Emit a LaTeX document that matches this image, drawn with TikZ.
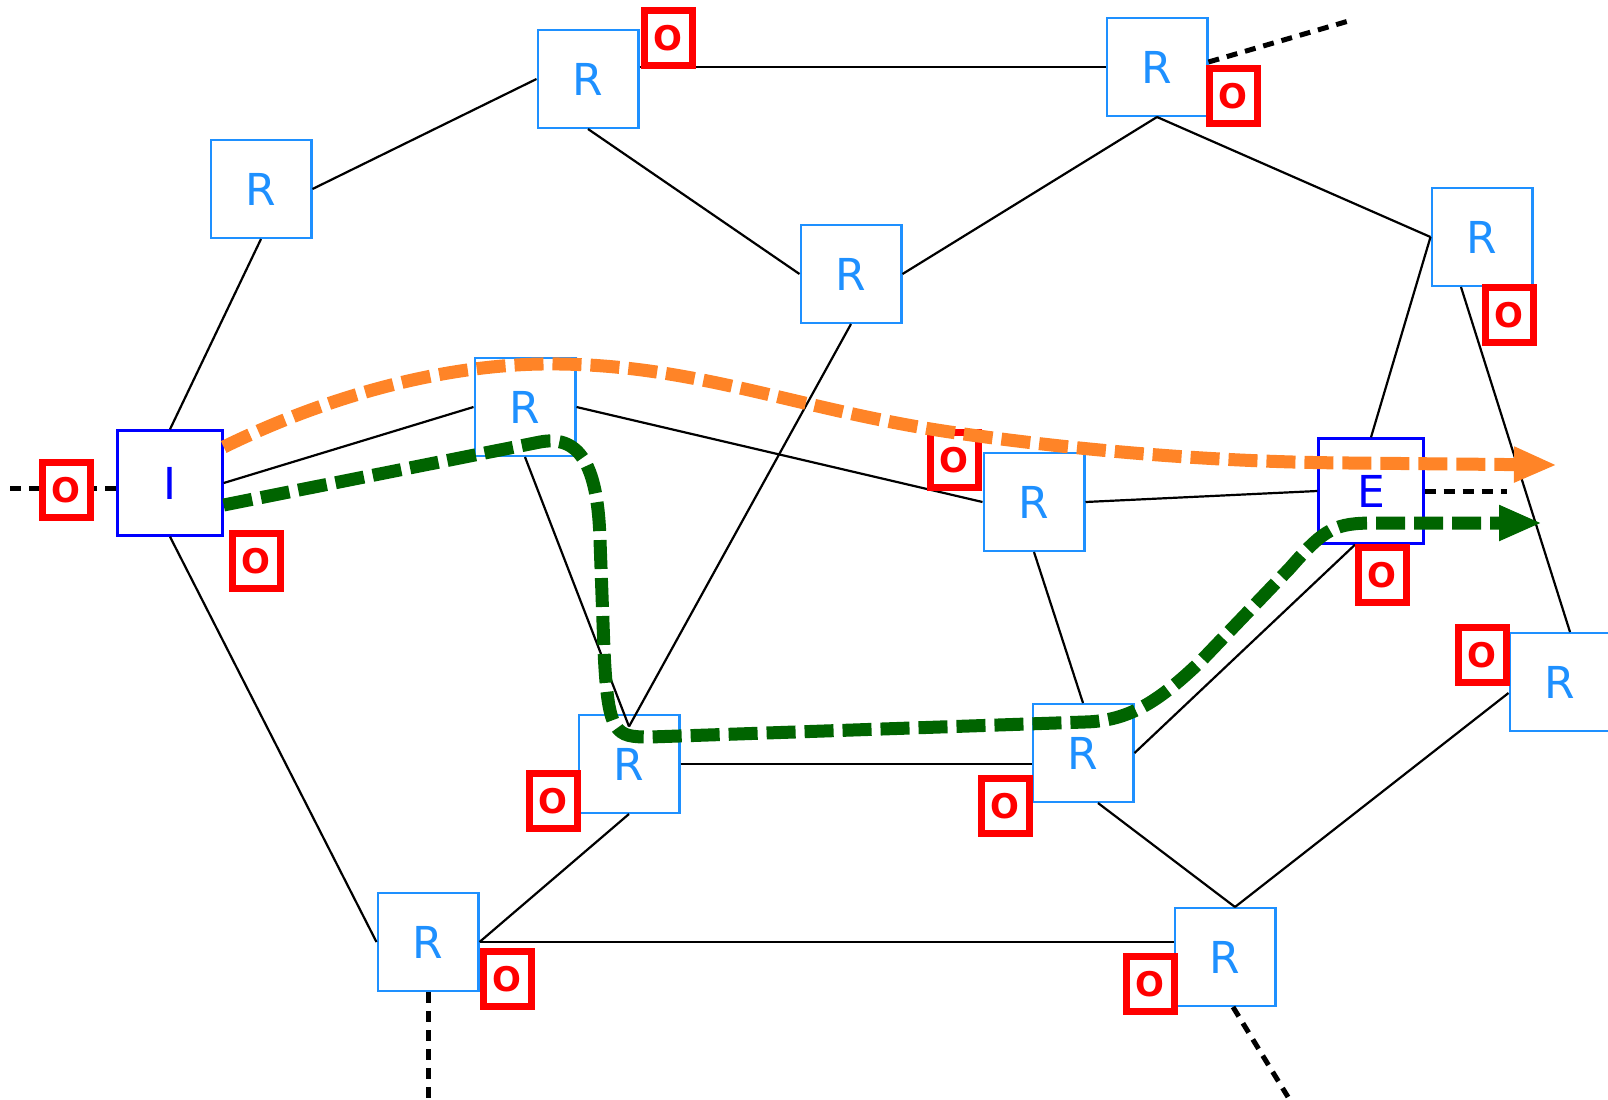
\documentclass[tikz,border=0pt]{standalone}
\usepackage{fontspec}
\newfontfamily\boxfont{DejaVu Sans}
\usepackage{tikz}
\usetikzlibrary{arrows.meta,calc}
\definecolor{rblue}{RGB}{30,144,255}
\definecolor{pathorange}{RGB}{255,132,39}
\definecolor{pathgreen}{RGB}{0,100,0}

\begin{document}
\begin{tikzpicture}[x=0.5pt,y=-0.5pt,
  rbox/.style={draw=rblue,text=rblue,line width=1.2pt,minimum width=50.3pt,
    minimum height=48.8pt,inner sep=0pt,font=\boxfont\fontsize{22}{22}\selectfont},
  ebox/.style={rbox,draw=blue,text=blue,minimum width=52.5pt,minimum height=52.5pt},
  obox/.style={draw=red,text=red,fill=white,line width=3.5pt,minimum width=24pt,
    minimum height=27.5pt,inner sep=0pt,font=\boxfont\bfseries\fontsize{17}{17}\selectfont},
  link/.style={line width=1.1pt},
  stub/.style={line width=2.5pt,dash pattern=on 5.5pt off 4pt},
  route/.style={line width=6.5pt,dash pattern=on 14.5pt off 4.5pt,
    -{Triangle[length=21.5pt,width=16.5pt]}}]
  \useasboundingbox (0,0) rectangle (1608,1099);
  % routers
  \node[rbox] (r1)  at (588,79)   {R};
  \node[rbox] (r2)  at (1157,67)  {R};
  \node[rbox] (r3)  at (261,189)  {R};
  \node[rbox] (r4)  at (851,274)  {R};
  \node[rbox] (r5)  at (1482,237) {R};
  \node[rbox] (r6)  at (525,407)  {R};
  \node[ebox] (i)   at (170,483)  {I};
  \node[rbox] (r7)  at (1034,502) {R};
  \node[ebox] (e)   at (1371,491) {E};
  \node[rbox] (r8)  at (1560,682) {R};
  \node[rbox] (r9)  at (629,764)  {R};
  \node[rbox] (r10) at (1083,753) {R};
  \node[rbox] (r11) at (428,942)  {R};
  \node[rbox] (r12) at (1225,957) {R};
  \coordinate (r9in)  at ($(r9.north)!0.25!(r9.center)$);
  \coordinate (r12in) at ([xshift=5pt]r12.north);
  \coordinate (lft) at (10,488);
  \coordinate (ne)  at (1352,20);
  \coordinate (rgt) at (1507,491);
  \coordinate (sw)  at (428,1099);
  \coordinate (se)  at (1288,1097);
  % links
  \draw[link] (r3.east) -- (r1.west);
  \draw[link] (r3.south) -- (i.north);
  \draw[link] (r1.east |- r2.west) -- (r2.west);
  \draw[link] (r1.south) -- (r4.west);
  \draw[link] (r2.south) -- (r4.east);
  \draw[link] (r2.south) -- (r5.west);
  \draw[link] (r4.south) -- (r9in);
  \draw[link] (r5.west) -- (e.north);
  \draw[link] ([xshift=-10.5pt]r5.south) -- ([xshift=5pt]r8.north);
  \draw[link] (i.east) -- (r6.west);
  \draw[link] (i.south) -- (r11.west);
  \draw[link] (r6.east) -- (r7.west);
  \draw[link] (r6.south) -- (r9in);
  \draw[link] (r7.east) -- (e.west);
  \draw[link] (r7.south) -- (r10.north);
  \draw[link] ([xshift=-8pt]e.south) -- (r10.east);
  \draw[link] ([yshift=-5.5pt]r8.west) -- (r12in);
  \draw[link] (r9.east) -- (r9.east -| r10.west);
  \draw[link] (r9.south) -- (r11.east);
  \draw[link] ([xshift=7.5pt]r10.south) -- (r12in);
  \draw[link] (r11.east) -- (r11.east -| r12.west);
  % open ends
  \draw[stub] (lft) -- (lft -| i.west);
  \draw[stub] ([yshift=2.5pt]r2.east) -- (ne);
  \draw[stub] (e.east) -- (rgt);
  \draw[stub] (r11.south) -- (sw);
  \draw[stub] ([xshift=4pt]r12.south) -- (se);
  % outputs
  \node[obox] (o1)  at (668,38)   {O};
  \node[obox] (o2)  at (1233,96)  {O};
  \node[obox] (o3)  at (1509,315) {O};
  \node[obox] (o4)  at (66,490)   {O};
  \node[obox] (o5)  at (256,561)  {O};
  \node[obox] (o6)  at (954,460)  {O};
  \node[obox] (o7)  at (1382,575) {O};
  \node[obox] (o8)  at (1482,655) {O};
  \node[obox] (o9)  at (553,801)  {O};
  \node[obox] (o10) at (1005,806) {O};
  \node[obox] (o11) at (507,979)  {O};
  \node[obox] (o12) at (1150,984) {O};
  % paths
  \coordinate (otip) at (1557,465);
  \coordinate (gtip) at (1542,523);
  \draw[route,pathorange] ([yshift=18pt]i.east) .. controls (330,395) and (450,362) .. (560,364)
    .. controls (700,366) and (800,410) .. (950,432)
    .. controls (1060,448) and (1200,462) .. (1350,463) -- (otip);
  \draw[route,pathgreen] ([yshift=-11pt]i.east) -- (540,442)
    .. controls (582,434) and (598,470) .. (600,540) -- (604,650)
    .. controls (608,735) and (615,737) .. (650,737) -- (1085,722)
    .. controls (1130,721) and (1160,700) .. (1200,662) -- (1290,568)
    .. controls (1325,528) and (1335,523) .. (1375,523) -- (gtip);
\end{tikzpicture}
\end{document}
